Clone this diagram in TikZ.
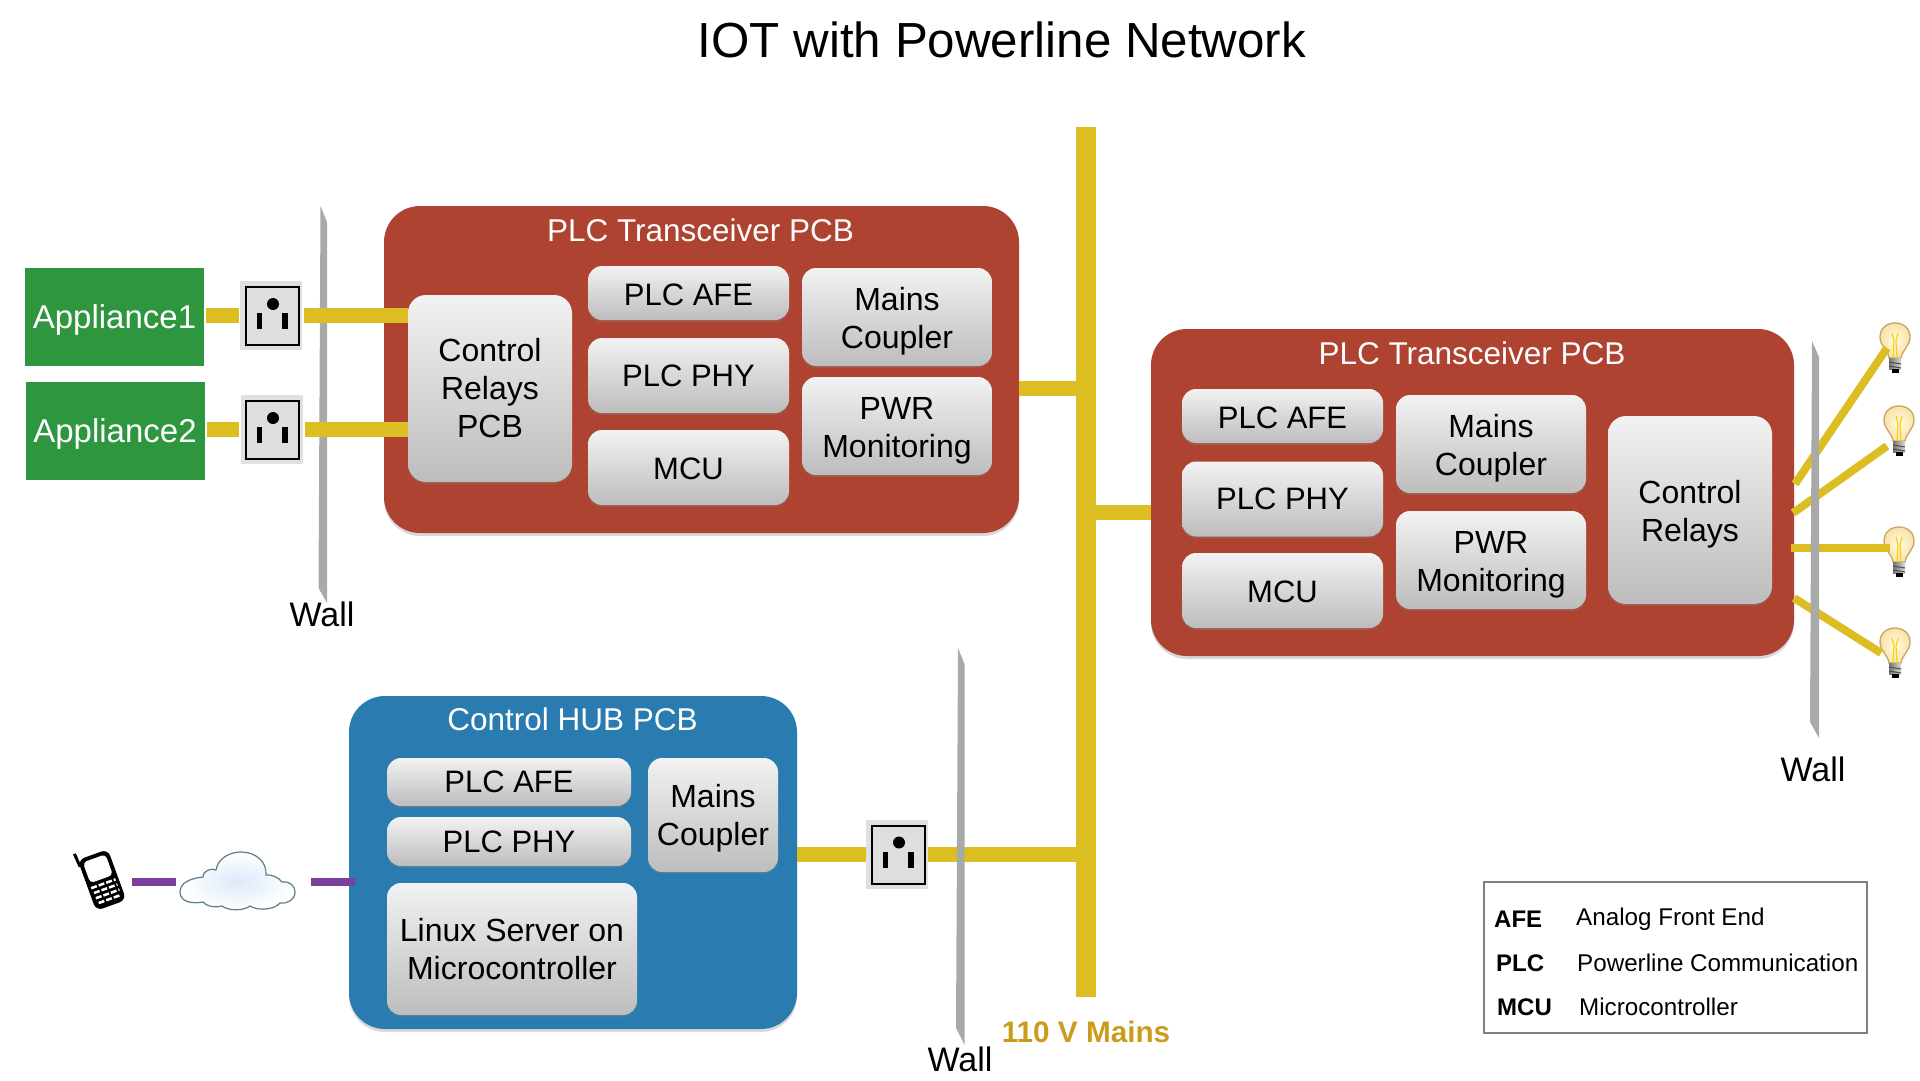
\documentclass[tikz,border=0pt]{standalone}
\usepackage{fontspec}
\setmainfont{Liberation Sans}
\usetikzlibrary{shadows}

\definecolor{pcbred}{HTML}{AE4331}
\definecolor{hubblue}{HTML}{2A7BB0}
\definecolor{appgreen}{HTML}{2F9640}
\definecolor{wireyellow}{HTML}{DCBD22}
\definecolor{wallgrey}{HTML}{A8AAA9}
\definecolor{netpurple}{HTML}{7A3F9D}
\definecolor{mainsgold}{HTML}{C99C1C}
\definecolor{glassin}{HTML}{FFFCE8}
\definecolor{glassout}{HTML}{F8E2A8}
\definecolor{glassline}{HTML}{C8A566}
\definecolor{cloudin}{HTML}{DDE9FA}
\definecolor{cloudline}{HTML}{5A7F85}

\tikzset{
 pcb/.style={rectangle,rounded corners=36,fill=#1,inner sep=0,
   drop shadow={shadow xshift=0pt,shadow yshift=-3pt,opacity=.3}},
 chip/.style={rectangle,rounded corners=14,inner sep=0,align=center,
   top color=black!5,bottom color=black!26,
   font=\fontsize{31}{38}\selectfont,
   drop shadow={shadow xshift=0pt,shadow yshift=-2pt,opacity=.3}},
 bigtext/.style={font=\fontsize{32}{38}\selectfont},
 lowtext/.style={text height=#1},
 appliance/.style={rectangle,fill=appgreen,text=white,inner sep=0,
   minimum width=179,minimum height=98,font=\fontsize{33}{38}\selectfont},
 outletplate/.style={rectangle,fill=black!12,inner sep=0,minimum width=62,minimum height=69},
 pcbtitle/.style={text=white,font=\fontsize{31.5}{38}\selectfont},
 walllabel/.style={font=\fontsize{34}{40}\selectfont},
 wall/.style={fill=wallgrey},
 wire/.style={wireyellow,line width=15},
 lampwire/.style={wireyellow,line width=8},
 netwire/.style={netpurple,line width=8},
 legendkey/.style={anchor=west,inner sep=0,font=\fontsize{24}{30}\bfseries\selectfont},
 legendtext/.style={anchor=west,inner sep=0,font=\fontsize{24.2}{30}\selectfont},
 socket/.pic={
  \draw[line width=2,fill=black!13] (-26.5,-29) rectangle (26.5,29);
  \fill (1,-12) circle (6);
  \fill (-15.5,-3) rectangle (-10,13);
  \fill (10,-3) rectangle (16,13);
 },
 bulb/.pic={
  \draw[draw=glassline,line width=1.3,inner color=glassin,outer color=glassout]
   (-6,20) .. controls (-7,12) and (-15,8) .. (-15,-1) .. controls (-15,-10) and (-8,-15) .. (0,-15)
   .. controls (8,-15) and (15,-10) .. (15,-1) .. controls (15,8) and (7,12) .. (6,20) -- cycle;
  \draw[yellow!70!orange,line width=1.2] (-3,-5) -- (-1,3) -- (-2,20);
  \draw[yellow!70!orange,line width=1.2] (3,-5) -- (1,3) -- (2,20);
  \fill[left color=black!55,right color=black!15] (-6,20) rectangle (6,31);
  \draw[black!70,line width=1] (-6,24) -- (6,26);
  \draw[black!70,line width=1] (-6,28) -- (6,30);
  \fill[black] (-3.5,31) rectangle (3.5,35);
 },
}

\begin{document}
\begin{tikzpicture}[x=1pt,y=-1pt]
\useasboundingbox (0,0) rectangle (1920,1080);

\node[font=\fontsize{49.3}{55}\selectfont] (title) at (1002,40) {IOT with Powerline Network};

% the wall behind the wires comes first
\fill[wall] (320.5,206) -- (327,222) -- (327,603) -- (318.5,588) -- cycle;

% transceiver, left
\node[pcb=pcbred,minimum width=635,minimum height=327] (pcba) at (701.5,369.5) {};
\node[pcbtitle] (titlea) at (700.5,230) {PLC Transceiver PCB};
\node[chip,bigtext,lowtext=99pt,minimum width=164,minimum height=187,rounded corners=18] (relaya) at (490,388.5) {Control\\Relays\\PCB};
\node[chip,lowtext=25pt,minimum width=201,minimum height=54] (afea) at (688.5,293) {PLC AFE};
\node[chip,minimum width=201,minimum height=75] (phya) at (688.5,375.5) {PLC PHY};
\node[chip,lowtext=25pt,minimum width=201,minimum height=75] (mcua) at (688.5,467.5) {MCU};
\node[chip,bigtext,lowtext=69pt,minimum width=190,minimum height=98] (mainsa) at (897,317) {Mains\\Coupler};
\node[chip,bigtext,lowtext=69pt,minimum width=190,minimum height=98] (pwra) at (897,426) {PWR\\Monitoring};

% transceiver, right
\node[pcb=pcbred,minimum width=643,minimum height=327] (pcbb) at (1472.5,492.5) {};
\node[pcbtitle] (titleb) at (1472,353) {PLC Transceiver PCB};
\node[chip,lowtext=25pt,minimum width=201,minimum height=54] (afeb) at (1282.5,416) {PLC AFE};
\node[chip,minimum width=201,minimum height=75] (phyb) at (1282.5,499) {PLC PHY};
\node[chip,lowtext=25pt,minimum width=201,minimum height=75] (mcub) at (1282.5,590.5) {MCU};
\node[chip,bigtext,lowtext=69pt,minimum width=190,minimum height=98] (mainsb) at (1491,444) {Mains\\Coupler};
\node[chip,bigtext,lowtext=69pt,minimum width=190,minimum height=98] (pwrb) at (1491,560) {PWR\\Monitoring};
\node[chip,bigtext,lowtext=69pt,minimum width=164,minimum height=188,rounded corners=18] (relayb) at (1690,510) {Control\\Relays};

% hub
\node[pcb=hubblue,minimum width=448,minimum height=333] (hub) at (573,862.5) {};
\node[pcbtitle] (titlec) at (572.5,719) {Control HUB PCB};
\node[chip,minimum width=244,minimum height=48] (afec) at (509,782) {PLC AFE};
\node[chip,minimum width=244,minimum height=49] (phyc) at (509,841.5) {PLC PHY};
\node[chip,bigtext,minimum width=250,minimum height=132] (linuxc) at (512,949) {Linux Server on\\Microcontroller};
\node[chip,bigtext,lowtext=67pt,minimum width=130,minimum height=114] (mainsc) at (713,815) {Mains\\Coupler};

% appliances and outlets
\node[appliance,lowtext=30pt] (appa) at (114.5,317) {Appliance1};
\node[appliance,lowtext=30pt] (appb) at (115,430.5) {Appliance2};
\node[outletplate] (outa) at (271,315.5) {};
\node[outletplate] (outb) at (271.5,429.5) {};
\node[outletplate] (outc) at (897,854) {};
\pic at (272,316) {socket};
\pic at (272,430) {socket};
\pic at (898,854.5) {socket};

% mains
\coordinate (bustop) at (1086,127);
\coordinate (busend) at (1086,997);
\coordinate (tapa) at (1086,388);
\coordinate (tapb) at (1086,512);
\coordinate (tapc) at (1086,854);
\draw[wireyellow,line width=20] (bustop) -- (busend);
\draw[wire] (tapa -| pcba.east) -- (tapa);
\draw[wire] (tapb) -- (tapb -| pcbb.west);
\draw[wire] (outc.east) -- (tapc);
\draw[wire] (hub.east |- outc) -- (outc.west);

\draw[wire,shorten <=2,shorten >=1] (appa.east |- outa) -- (outa.west);
\draw[wire,shorten <=2,shorten >=1] (appb.east |- outb) -- (outb.west);
\draw[wire,shorten <=2] (outa.east) -- (outa -| relaya.west);
\draw[wire,shorten <=2] (outb.east) -- (outb -| relaya.west);

% lamps
\pic at (1895,338) {bulb};
\pic at (1899,421) {bulb};
\pic at (1899,542) {bulb};
\pic at (1895,643) {bulb};
\coordinate (lampa) at (1887,348);
\coordinate (lampb) at (1887,446);
\coordinate (lampc) at (1890,548);
\coordinate (lampd) at (1881,653);
\coordinate (rela) at (1795,484);
\coordinate (relb) at (1793,513);
\coordinate (relc) at (1791,548);
\coordinate (reld) at (1794,598);
\draw[lampwire] (rela) -- (lampa);
\draw[lampwire] (relb) -- (lampb);
\draw[lampwire] (relc) -- (lampc);
\draw[lampwire] (reld) -- (lampd);

\fill[wall] (1812,341) -- (1819,357) -- (1819,738) -- (1810,722) -- cycle;
\fill[wall] (958,648) -- (964.5,664) -- (964.5,1045) -- (956,1028) -- cycle;

\node[walllabel] (walla) at (322,614) {Wall};
\node[walllabel] (wallb) at (1813,769) {Wall};
\node[walllabel] (wallc) at (960,1059) {Wall};
\node[text=mainsgold,font=\fontsize{29.7}{34}\bfseries\selectfont] (mains) at (1086,1032) {110 V Mains};

% phone
\begin{scope}[shift={(102,880)},rotate=20]
\draw[line width=3] (-16,-20) -- (-17,-34);
\fill[rounded corners=7] (-16,-27) rectangle (16,27);
\fill[white,rounded corners=4] (-12,-23) rectangle (12,-1);
\draw[white,line width=2.5,dash pattern=on 6 off 2] (-13,4) -- (13,4);
\draw[white,line width=2.5,dash pattern=on 6 off 2] (-12,9.5) -- (13,9.5);
\draw[white,line width=2.5,dash pattern=on 6 off 2] (-12,15) -- (13,15);
\draw[white,line width=2.5,dash pattern=on 6 off 2] (-11,20.5) -- (12,20.5);
\end{scope}

% cloud
\draw[draw=cloudline,line width=1.2,inner color=cloudin,outer color=white]
 (180,892) .. controls (180,882) and (192,878) .. (203,877) .. controls (203,870) and (212,868) .. (216,870)
 .. controls (218,858) and (230,852) .. (241,852) .. controls (256,852) and (267,862) .. (266,875)
 .. controls (272,874) and (279,878) .. (282,882) .. controls (290,881) and (295,886) .. (295,892)
 .. controls (295,900) and (287,904) .. (280,903) .. controls (274,910) and (258,911) .. (250,906)
 .. controls (244,911) and (228,911) .. (222,906) .. controls (214,908) and (206,906) .. (203,902)
 .. controls (192,904) and (180,902) .. (180,892) -- cycle;

\coordinate (phonee) at (132,882);
\coordinate (cloudw) at (176,882);
\coordinate (cloude) at (311,882);
\coordinate (hubw) at (355,882);
\draw[netwire] (phonee) -- (cloudw);
\draw[netwire] (cloude) -- (hubw);

% legend
\node[rectangle,draw=black!50,line width=2,minimum width=383,minimum height=151,inner sep=0] (legend) at (1675.5,957.5) {};
\node[legendkey] (keya) at (1494,919) {AFE};
\node[legendkey] (keyb) at (1496,963) {PLC};
\node[legendkey] (keyc) at (1497,1007) {MCU};
\node[legendtext] (texta) at (1576,919) {Analog Front End};
\node[legendtext] (textb) at (1577,963) {Powerline Communication};
\node[legendtext] (textc) at (1579,1007) {Microcontroller};
\end{tikzpicture}
\end{document}
